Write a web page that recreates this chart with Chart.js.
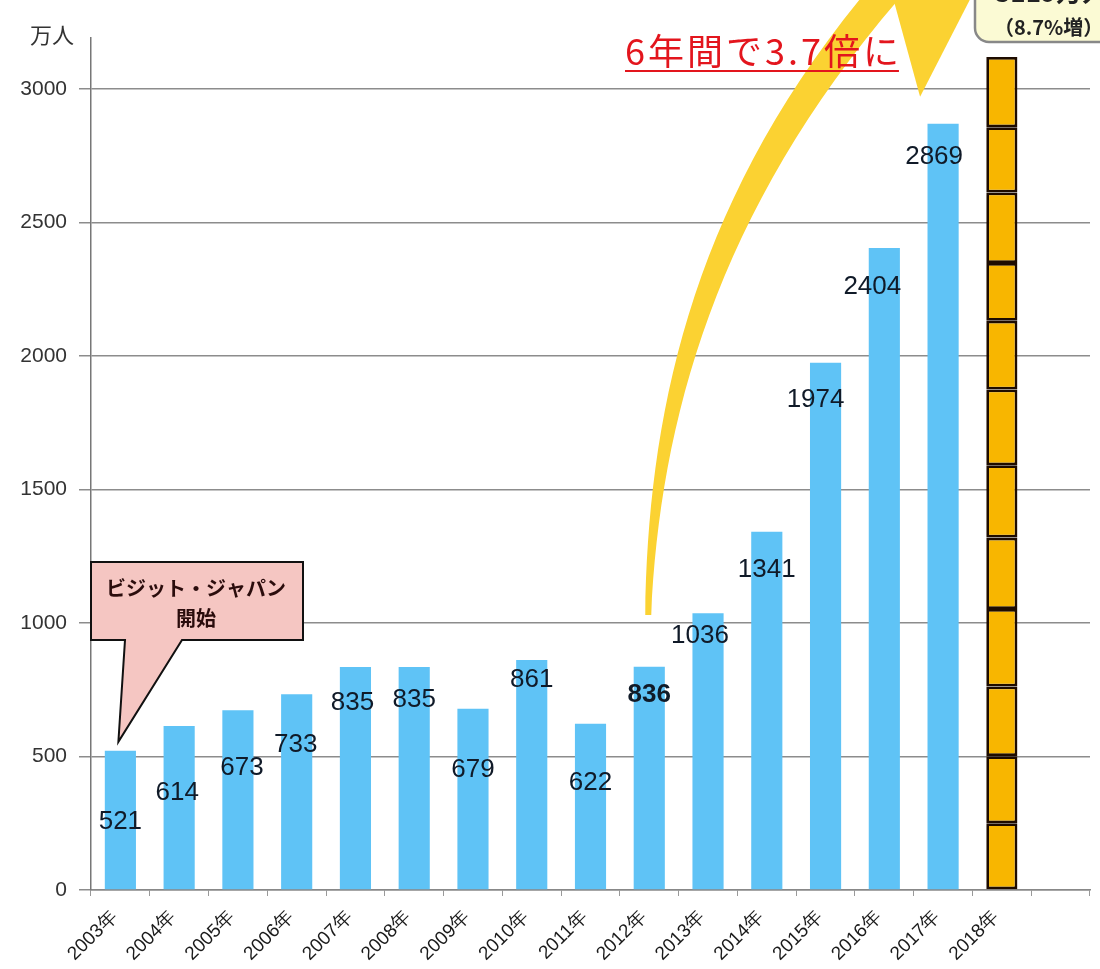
<!DOCTYPE html>
<html>
<head>
<meta charset="utf-8">
<script src="https://cdn.jsdelivr.net/npm/chart.js@4.4.1/dist/chart.umd.min.js"></script>
<style>
  body { margin: 0; background: #fff; }
  canvas { display: block; }
</style>
</head>
<body>
<canvas id="myChart" width="1100" height="969"></canvas>
<script>
// 訪日外国人旅行者数（万人）
var years = ['2003年', '2004年', '2005年', '2006年', '2007年', '2008年', '2009年', '2010年',
             '2011年', '2012年', '2013年', '2014年', '2015年', '2016年', '2017年', '2018年', ''];
var visitors = [521, 614, 673, 733, 835, 835, 679, 861, 622, 836, 1036, 1341, 1974, 2404, 2869];
// 2018年は月別に積み上げ
var months2018 = [250.2, 250.9, 260.8, 290.1, 267.5, 271.1, 283.2, 257.8, 216.0, 264.1, 244.1, 263.2];
var yTicks = [0, 500, 1000, 1500, 2000, 2500, 3000];

// 数値ラベルの縦位置（軸の値）と横ずれ（px）
var labelAt = [255, 363, 457, 543, 700, 712, 449, 787, 401, 730, 951, 1199, 1835, 2258, 2745];
var labelShift = [0, -2, 4, -1, -3, 0, 0, 0, 0, 0, -8, 0, -10, -12, -9];

var FONT = '"Liberation Sans", Arial, sans-serif';
var JP = '"Noto Sans CJK JP", sans-serif';

var idx2018 = years.indexOf('2018年');
var total2018 = months2018.reduce(function (a, b) { return a + b; }, 0);
var growth = (total2018 / visitors[visitors.length - 1] - 1) * 100;

var datasets = [{
    label: '訪日外国人旅行者数',
    data: years.map(function (y, i) { return i < visitors.length ? visitors[i] : null; }),
    backgroundColor: '#5fc3f6',
    borderWidth: 0
}];
months2018.forEach(function (v, m) {
    datasets.push({
        label: '2018年' + (m + 1) + '月',
        data: years.map(function (y, i) { return i === idx2018 ? v : null; }),
        backgroundColor: '#f8b600',
        borderColor: '#1e0c00',
        borderWidth: 2.8,
        borderSkipped: false
    });
});

var decorations = {
    id: 'decorations',
    afterDatasetsDraw: function (chart) {
        var ctx = chart.ctx;
        var x = chart.scales.x, y = chart.scales.y;
        ctx.save();

        // 単位
        ctx.fillStyle = '#333';
        ctx.font = '22px ' + JP;
        ctx.textAlign = 'center';
        ctx.textBaseline = 'middle';
        ctx.fillText('万人', 52, 35);

        // 数値ラベル
        ctx.fillStyle = '#101a28';
        for (var i = 0; i < visitors.length; i++) {
            ctx.font = (i === 9 ? 'bold ' : '') + '26px ' + FONT;
            ctx.fillText(String(visitors[i]), x.getPixelForValue(i) + labelShift[i], y.getPixelForValue(labelAt[i]));
        }

        // 黄色の矢印（2012年→2017年）：軸と矢じりを別々に塗る
        var tx = x.getPixelForValue(9) - 4, ty = y.getPixelForValue(1030);
        var hx = x.getPixelForValue(14) - 23, hy = y.getPixelForValue(2970);
        ctx.fillStyle = '#fbd232';
        ctx.beginPath();
        ctx.moveTo(tx, ty);
        ctx.bezierCurveTo(tx + 3, ty - 200, tx + 45, ty - 420, tx + 235, ty - 640);
        ctx.lineTo(tx + 275, ty - 640);
        ctx.bezierCurveTo(tx + 75, ty - 420, tx + 15, ty - 200, tx + 6, ty);
        ctx.closePath();
        ctx.fill();
        ctx.beginPath();
        ctx.moveTo(hx - 32, hy - 117);
        ctx.lineTo(hx, hy);
        ctx.lineTo(hx + 60, hy - 117);
        ctx.closePath();
        ctx.fill();

        // 見出し
        var head = '6年間で3.7倍に';
        ctx.font = '36px ' + JP;
        ctx.letterSpacing = '3px';
        ctx.textAlign = 'left';
        ctx.fillStyle = '#e3151d';
        ctx.fillText(head, 625, 51);
        var w = ctx.measureText(head).width - 3;
        ctx.letterSpacing = '0px';
        ctx.strokeStyle = '#e3151d';
        ctx.lineWidth = 2;
        ctx.beginPath();
        ctx.moveTo(625, 71);
        ctx.lineTo(625 + w, 71);
        ctx.stroke();

        // ビジット・ジャパン開始の吹き出し
        var px = x.getPixelForValue(0) - 2, py = y.getPixelForValue(555);
        ctx.fillStyle = '#f5c6c2';
        ctx.strokeStyle = '#111';
        ctx.lineWidth = 2;
        ctx.beginPath();
        ctx.moveTo(91, 562);
        ctx.lineTo(303, 562);
        ctx.lineTo(303, 640);
        ctx.lineTo(182, 640);
        ctx.lineTo(px, py);
        ctx.lineTo(125, 640);
        ctx.lineTo(91, 640);
        ctx.closePath();
        ctx.fill();
        ctx.stroke();
        ctx.fillStyle = '#2a0c0c';
        ctx.font = 'bold 20px ' + JP;
        ctx.textAlign = 'center';
        ctx.fillText('ビジット・ジャパン', 196, 588);
        ctx.fillText('開始', 196, 618);

        // 2018年の合計
        ctx.fillStyle = '#fbfad4';
        ctx.strokeStyle = '#888';
        ctx.lineWidth = 2.5;
        ctx.beginPath();
        ctx.roundRect(975, -60, 200, 102, 14);
        ctx.fill();
        ctx.stroke();
        ctx.fillStyle = '#222';
        ctx.textAlign = 'left';
        ctx.font = 'bold 26px ' + JP;
        ctx.fillText(Math.round(total2018) + '万人', 995, -8);
        ctx.font = 'bold 20px ' + JP;
        ctx.fillText('（' + growth.toFixed(1) + '%増）', 994, 27);

        ctx.restore();
    }
};

var ctx = document.getElementById('myChart').getContext('2d');
var myChart = new Chart(ctx, {
    type: 'bar',
    data: { labels: years, datasets: datasets },
    options: {
        responsive: false,
        animation: false,
        layout: { padding: { top: 38, right: 10, left: 0, bottom: 0 } },
        datasets: { bar: { barPercentage: 0.53, categoryPercentage: 1 } },
        plugins: { legend: { display: false }, tooltip: { enabled: false } },
        scales: {
            x: {
                stacked: true,
                grid: { drawOnChartArea: false, tickLength: 6, color: '#999', offset: true },
                border: { color: '#888', width: 1.5 },
                ticks: {
                    autoSkip: false, minRotation: 45, maxRotation: 45,
                    color: '#1a1a1a', padding: 10, labelOffset: -6,
                    font: { family: FONT, size: 19 }
                },
                afterFit: function (scale) { scale.height = 79; }
            },
            y: {
                stacked: true,
                min: 0,
                max: 3190,
                afterBuildTicks: function (scale) {
                    scale.ticks = yTicks.map(function (v) { return { value: v }; });
                },
                grid: { color: '#8c8c8c', lineWidth: 1.5, tickLength: 12 },
                border: { color: '#777', width: 1.5 },
                ticks: {
                    color: '#333', padding: 12, font: { family: FONT, size: 21 },
                    callback: function (value) { return String(value); }
                },
                afterFit: function (scale) { scale.width = 91; }
            }
        }
    },
    plugins: [decorations]
});
</script>
</body>
</html>
